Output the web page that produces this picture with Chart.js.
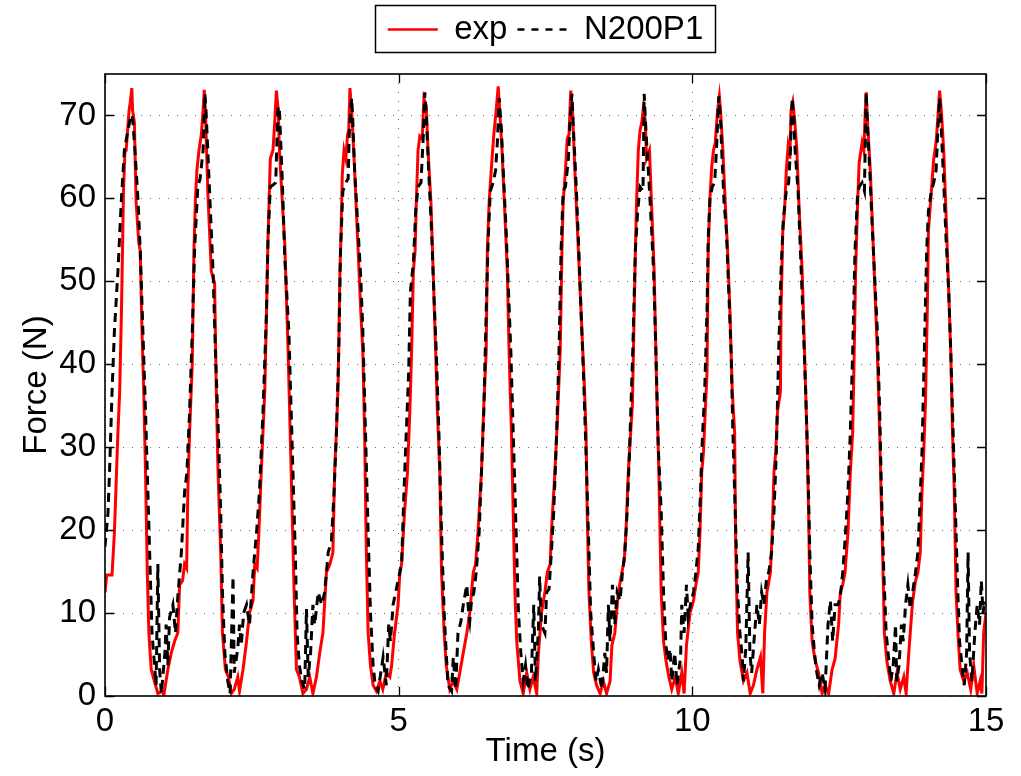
<!DOCTYPE html>
<html>
<head>
<meta charset="utf-8">
<script src="https://cdn.jsdelivr.net/npm/chart.js@4"></script>
<style>
html,body{margin:0;padding:0;background:#fff;}
#wrap{width:1021px;height:776px;position:relative;}
</style>
</head>
<body>
<div id="wrap"><canvas id="c"></canvas></div>
<script>
// ---- data: [time (s), force (N)] ----
const seriesNames = ['exp', 'N200P1'];
const xTitle = 'Time (s)';
const yTitle = 'Force (N)';
const xTicks = [0, 5, 10, 15];
const yTicks = [0, 10, 20, 30, 40, 50, 60, 70];

const expSeries = [[0,12.5],[0.03,14.6],[0.12,14.6],[0.16,19.7],[0.22,31.8],[0.25,36.7],[0.28,46.4],[0.315,60.9],[0.34,65.8],[0.36,65.8],[0.41,70.6],[0.43,71.6],[0.457,73.3],[0.47,70.6],[0.5,69.2],[0.53,59.5],[0.576,54.6],[0.6,53.7],[0.63,44],[0.66,36.7],[0.69,27],[0.72,14.9],[0.747,7.6],[0.787,3.2],[0.84,1.8],[0.9,0.3],[0.985,0.6],[1.0,0],[1.07,3.2],[1.128,5.2],[1.185,6.6],[1.24,7.6],[1.27,13.4],[1.32,13.9],[1.355,15.9],[1.39,15.4],[1.41,24.6],[1.44,31.8],[1.486,40.1],[1.514,53.7],[1.54,60],[1.565,63.4],[1.6,65.8],[1.64,67.7],[1.67,70.6],[1.69,73.1],[1.71,70.6],[1.75,60.9],[1.81,51.2],[1.866,49.8],[1.895,36.7],[1.925,27],[1.97,17.3],[2.0,7.6],[2.05,3.2],[2.1,2.3],[2.15,0.3],[2.2,0.8],[2.26,2.3],[2.29,0.6],[2.35,3.2],[2.41,6.6],[2.46,10],[2.52,11.5],[2.55,15.9],[2.59,15.4],[2.62,19.7],[2.66,27],[2.72,36.7],[2.75,46.4],[2.775,55.1],[2.815,64.8],[2.86,65.8],[2.89,69.2],[2.918,73],[2.95,70.6],[2.97,65.8],[3.02,59.5],[3.06,54.6],[3.116,42],[3.17,27],[3.22,12.5],[3.26,3.2],[3.31,2.3],[3.37,0.3],[3.43,0.8],[3.486,2.3],[3.54,0.3],[3.6,2.3],[3.656,5.2],[3.71,7.6],[3.77,14.9],[3.83,15.9],[3.88,17.3],[3.91,27],[3.94,31.8],[3.97,37.7],[4.0,51.2],[4.02,56.1],[4.04,62.9],[4.07,65.8],[4.1,64.8],[4.13,67.7],[4.15,68.2],[4.17,73.3],[4.2,70.6],[4.25,63.4],[4.31,53.7],[4.355,46.4],[4.39,41.5],[4.42,31.8],[4.45,17.3],[4.48,7.6],[4.52,3.7],[4.565,1.3],[4.62,0.6],[4.68,1.8],[4.73,0.8],[4.79,2.8],[4.85,2.3],[4.88,3.7],[4.93,7.6],[4.99,11],[5.02,14.9],[5.05,15.9],[5.1,22.2],[5.15,27],[5.19,34.3],[5.22,41.5],[5.25,51.2],[5.28,53.7],[5.3,59.5],[5.33,65.8],[5.36,67.5],[5.4,67.2],[5.43,72],[5.47,71.1],[5.5,65.8],[5.55,59.5],[5.587,51.2],[5.63,41.5],[5.66,34.3],[5.7,27],[5.73,14.9],[5.775,7.6],[5.81,3.7],[5.87,0.8],[5.93,1.8],[5.99,0.8],[6.04,2.8],[6.1,5.2],[6.16,7.6],[6.21,10],[6.27,14.9],[6.31,15.9],[6.35,19.7],[6.41,27],[6.45,35.2],[6.49,41.5],[6.51,53.7],[6.54,59.5],[6.58,63.8],[6.62,67.7],[6.66,70.6],[6.695,73.5],[6.72,70.6],[6.76,65.8],[6.8,59.5],[6.85,51.2],[6.88,41.5],[6.92,31.8],[6.95,22.2],[6.98,12.5],[7.01,6.6],[7.065,1.8],[7.12,0.3],[7.18,2.8],[7.235,0.8],[7.29,2.3],[7.35,0.3],[7.38,5.2],[7.43,10],[7.49,12.5],[7.53,14.9],[7.58,15.9],[7.6,19.7],[7.66,27],[7.7,32.9],[7.75,41.5],[7.78,53.7],[7.8,59.5],[7.84,63.4],[7.87,67.2],[7.9,67.7],[7.93,73],[7.96,70.6],[8.0,63.4],[8.06,53.7],[8.12,44],[8.16,37.7],[8.19,31.8],[8.21,22.2],[8.24,12.5],[8.28,6.6],[8.32,2.8],[8.37,1.3],[8.43,0.3],[8.485,1.8],[8.54,0.3],[8.6,1.8],[8.63,6.1],[8.68,7.6],[8.74,12.5],[8.8,14.9],[8.84,16.3],[8.87,19.7],[8.91,27],[8.95,31.8],[8.98,35.2],[9.01,46.4],[9.03,53.7],[9.05,59.5],[9.08,65.8],[9.11,68.2],[9.14,69.2],[9.17,71.1],[9.2,69.2],[9.22,64.8],[9.27,65.8],[9.31,58.5],[9.35,51.2],[9.39,38],[9.43,27],[9.47,12.5],[9.51,6.6],[9.55,4.3],[9.6,2.3],[9.65,0.8],[9.71,2.3],[9.76,0.3],[9.82,2.8],[9.86,0.3],[9.9,6.1],[9.96,10],[10.02,11.5],[10.06,13.4],[10.1,14.9],[10.13,19.7],[10.16,27],[10.19,29.4],[10.22,34.3],[10.25,39.1],[10.27,53.7],[10.3,60],[10.33,63.8],[10.36,65.8],[10.39,66.7],[10.43,70.6],[10.46,72.3],[10.48,70.6],[10.52,65.8],[10.56,59.5],[10.6,53.7],[10.64,46.4],[10.68,36.7],[10.72,31.8],[10.74,17.3],[10.77,7.6],[10.81,4.3],[10.87,1.8],[10.93,2.8],[10.985,0.3],[11.04,1.3],[11.1,3.2],[11.16,4.7],[11.2,0.3],[11.23,7.6],[11.27,12.5],[11.33,14.9],[11.36,19.7],[11.39,27],[11.42,29.4],[11.45,34.3],[11.5,36.7],[11.51,46.4],[11.54,56.1],[11.57,58.5],[11.6,63.4],[11.63,66.2],[11.66,64.8],[11.68,70.6],[11.71,71.6],[11.74,69.7],[11.78,65.8],[11.82,58.5],[11.87,51.2],[11.9,44],[11.93,36.7],[11.95,31.8],[11.98,22.2],[12.0,12.5],[12.04,6.6],[12.09,4.3],[12.15,2.8],[12.21,0.3],[12.26,1.3],[12.32,0.3],[12.38,3.2],[12.43,4.5],[12.49,8.6],[12.52,12.5],[12.56,13.4],[12.6,14.9],[12.65,19.7],[12.69,27],[12.73,31.8],[12.75,39.1],[12.78,51.2],[12.81,58.5],[12.84,64.3],[12.89,66.7],[12.92,65.8],[12.945,70.6],[12.96,72.8],[12.99,68.2],[13.03,63.4],[13.07,56.1],[13.11,48.8],[13.15,41.5],[13.19,31.8],[13.21,25.5],[13.24,17.3],[13.27,7.6],[13.31,4.3],[13.37,1.8],[13.43,0.3],[13.485,2.8],[13.54,0.8],[13.6,2.3],[13.64,0.3],[13.68,4.7],[13.71,7.6],[13.75,11.4],[13.8,13.9],[13.84,14.9],[13.88,17.3],[13.91,24.6],[13.94,29.4],[13.97,35.6],[14.0,46.4],[14.02,56.1],[14.07,60.9],[14.11,64.8],[14.15,66.7],[14.18,69.7],[14.21,73],[14.24,70.6],[14.28,65.8],[14.33,56.1],[14.365,48.8],[14.4,41.5],[14.43,31.8],[14.46,24.6],[14.49,12.5],[14.53,6.6],[14.56,3.2],[14.62,1.8],[14.68,2.8],[14.74,0.8],[14.79,3.7],[14.85,0.3],[14.9,1.8],[14.93,0.3],[14.96,7.6],[15.0,10]];

const simSeries = [[0,18],[0.05,22],[0.077,27],[0.12,36.7],[0.16,44],[0.22,51.2],[0.276,59.5],[0.33,65.8],[0.39,68.2],[0.446,70.1],[0.47,69.7],[0.51,65.8],[0.56,60],[0.6,53.7],[0.645,44],[0.69,34.3],[0.73,24.6],[0.77,14.9],[0.8,7.6],[0.844,3.7],[0.87,1.3],[0.9,15.9],[0.93,3.2],[0.96,0.3],[1.02,5.2],[1.04,8.6],[1.07,3.7],[1.1,9.5],[1.156,11],[1.2,7.6],[1.24,12],[1.3,17.3],[1.355,24.6],[1.395,27],[1.44,34.3],[1.486,44],[1.525,53.7],[1.58,61.4],[1.62,62.4],[1.67,65.8],[1.7,72.6],[1.72,70.6],[1.78,60.9],[1.84,51.2],[1.88,41.5],[1.93,31.8],[1.97,22.2],[2.0,12.5],[2.04,5.2],[2.09,1.8],[2.13,0.3],[2.18,14.4],[2.2,2.8],[2.26,5.7],[2.29,8.6],[2.32,6.1],[2.36,10],[2.41,11],[2.46,8.6],[2.52,14.9],[2.58,19.7],[2.63,24.6],[2.69,34.3],[2.75,46.4],[2.775,55.1],[2.815,61.4],[2.86,61.6],[2.906,61.9],[2.946,71.1],[2.97,70.6],[3.02,61.9],[3.06,53],[3.13,44],[3.2,27],[3.24,17.3],[3.27,7.6],[3.31,3.7],[3.35,1.8],[3.4,0.8],[3.43,10.5],[3.46,2.3],[3.5,5.2],[3.54,11],[3.57,8.6],[3.63,12.5],[3.69,11],[3.74,12.5],[3.8,17.3],[3.855,18.7],[3.9,24.6],[3.94,31.8],[3.98,41.5],[4.01,53.7],[4.05,60.9],[4.1,61.9],[4.14,62.4],[4.16,68.2],[4.2,72.1],[4.22,69.2],[4.25,63.4],[4.31,56.1],[4.355,50.3],[4.39,44],[4.435,31.8],[4.48,19.7],[4.52,10],[4.565,3.7],[4.6,1.3],[4.65,0.6],[4.735,4.7],[4.79,1.3],[4.83,8.6],[4.86,6.6],[4.905,11],[4.96,12.9],[5.02,14.9],[5.05,15.9],[5.09,24.6],[5.13,31.8],[5.17,39.1],[5.2,48.8],[5.25,52.2],[5.29,58.5],[5.33,61.4],[5.38,61.9],[5.42,67.7],[5.445,72.8],[5.47,70.1],[5.51,63.4],[5.56,56.1],[5.6,48.4],[5.64,41.5],[5.685,31.8],[5.73,19.7],[5.775,10],[5.81,5.2],[5.84,1.3],[5.9,0.6],[5.93,4.7],[5.97,0.8],[6.01,7.6],[6.06,9],[6.1,11],[6.16,13.4],[6.19,10],[6.21,9],[6.24,11.5],[6.28,12.5],[6.32,14.9],[6.37,19.7],[6.41,27],[6.45,34.3],[6.49,46.4],[6.525,55.1],[6.56,60.9],[6.61,61.9],[6.65,63.4],[6.68,66.7],[6.71,72.1],[6.75,68.2],[6.78,63.4],[6.83,56.1],[6.87,48.8],[6.91,41.5],[6.95,31.8],[6.99,22.2],[7.04,10],[7.08,5.2],[7.12,1.8],[7.16,3.7],[7.2,0.8],[7.26,2.8],[7.3,11],[7.33,1.8],[7.38,8.1],[7.4,14.4],[7.43,8.6],[7.49,7.6],[7.52,12.5],[7.56,12.9],[7.6,17.3],[7.64,22.2],[7.69,31.8],[7.73,41.5],[7.765,53.7],[7.8,60.9],[7.84,61.4],[7.89,64.8],[7.92,69.7],[7.95,72.6],[7.97,69.2],[8.02,61.9],[8.06,55.1],[8.1,47.4],[8.145,39.1],[8.19,29.4],[8.23,19.7],[8.27,10],[8.32,5.2],[8.36,1.8],[8.4,3.2],[8.46,0.8],[8.51,5.2],[8.54,2.8],[8.57,11],[8.6,6.6],[8.64,13.4],[8.68,8.6],[8.72,12.5],[8.77,11.5],[8.81,14.9],[8.85,17.3],[8.89,22.2],[8.93,29.4],[8.985,41.5],[9.03,53.7],[9.07,58.5],[9.11,61.4],[9.16,60.9],[9.18,72.6],[9.21,68.2],[9.25,63.4],[9.29,58.5],[9.34,51.2],[9.38,41.5],[9.42,30],[9.47,22.2],[9.51,12.5],[9.55,6.1],[9.58,4.3],[9.62,5.7],[9.65,1.8],[9.7,5.2],[9.74,1.3],[9.8,4.7],[9.82,11],[9.86,7.6],[9.9,13.4],[9.93,9.5],[9.98,11.5],[10.02,12.5],[10.06,14.9],[10.1,17.8],[10.14,24.6],[10.16,29.4],[10.21,36.7],[10.25,46.4],[10.27,55.1],[10.3,60],[10.34,61.4],[10.38,61.9],[10.41,65.8],[10.45,72.3],[10.48,69.7],[10.5,65.8],[10.54,59.5],[10.58,56.1],[10.62,48.8],[10.66,41.5],[10.69,31.8],[10.73,22.2],[10.77,12.5],[10.81,7.6],[10.85,4.7],[10.87,1.8],[10.91,5.7],[10.95,17.3],[10.98,5.2],[11.01,2.8],[11.06,7.6],[11.1,11],[11.14,8.6],[11.18,12.5],[11.22,11],[11.26,13.9],[11.3,14.9],[11.35,17.3],[11.39,22.2],[11.43,29.4],[11.47,41.5],[11.51,51.2],[11.55,57.6],[11.6,60.9],[11.64,61.9],[11.67,65.8],[11.7,72.1],[11.73,69.2],[11.75,65.8],[11.8,60.9],[11.84,53.7],[11.88,46.4],[11.93,36.7],[11.97,27],[12.0,17.3],[12.04,8.6],[12.08,5.2],[12.12,2.8],[12.16,1.3],[12.21,2.8],[12.26,0.8],[12.31,8.6],[12.35,11.5],[12.39,6.6],[12.43,11],[12.48,11],[12.52,12],[12.56,14.9],[12.6,18.7],[12.65,24.6],[12.69,31.8],[12.73,41.5],[12.77,53.7],[12.81,60],[12.84,61.4],[12.89,61.9],[12.93,60.9],[12.96,72.8],[12.98,69.2],[13.02,63.4],[13.06,57.1],[13.1,51.2],[13.15,44],[13.19,34.3],[13.22,24.6],[13.26,14.9],[13.3,7.6],[13.34,4.7],[13.38,1.8],[13.42,3.7],[13.46,8.6],[13.48,1.8],[13.52,3.7],[13.56,8.6],[13.59,6.6],[13.63,11],[13.67,13.4],[13.71,10.5],[13.75,12.5],[13.8,14.9],[13.84,17.3],[13.87,22.2],[13.91,29.4],[13.95,41.5],[13.99,53.7],[14.02,58.5],[14.07,60.9],[14.11,61.9],[14.15,63.4],[14.18,68.2],[14.21,72.1],[14.24,68.2],[14.28,61.9],[14.32,55.1],[14.365,48.8],[14.4,41.5],[14.44,31.8],[14.48,22.2],[14.52,12.5],[14.55,6.6],[14.59,3.7],[14.63,1.3],[14.67,5.2],[14.695,17.3],[14.72,5.2],[14.76,1.8],[14.81,7.6],[14.85,11],[14.89,8.6],[14.92,13.9],[14.95,10],[14.98,11.5],[15.0,11]];

// ---- chart ----
Chart.defaults.font.family = "'Liberation Sans', Arial, Helvetica, sans-serif";
Chart.defaults.color = '#000';

const FS = 33;

const framePlugin = {
  id: 'matlabFrame',
  afterDraw(chart) {
    const {ctx, chartArea: a, scales} = chart;
    const xs = scales.x, ys = scales.y;
    ctx.save();
    ctx.setLineDash([]);
    ctx.strokeStyle = '#000';
    ctx.lineWidth = 1.3;
    const L = 9;
    ctx.beginPath();
    ys.ticks.forEach(t => {
      const py = Math.round(ys.getPixelForValue(t.value)) + 0.5;
      ctx.moveTo(a.left, py); ctx.lineTo(a.left + L, py);
      ctx.moveTo(a.right, py); ctx.lineTo(a.right - L, py);
    });
    xs.ticks.forEach(t => {
      const px = Math.round(xs.getPixelForValue(t.value)) + 0.5;
      ctx.moveTo(px, a.bottom); ctx.lineTo(px, a.bottom - L);
      ctx.moveTo(px, a.top); ctx.lineTo(px, a.top + L);
    });
    ctx.stroke();
    ctx.lineWidth = 1.6;
    ctx.strokeRect(a.left, a.top, a.right - a.left, a.bottom - a.top);
    const hb = chart.legend && chart.legend.legendHitBoxes;
    if (hb && hb.length) {
      const first = hb[0], last = hb[hb.length - 1];
      const cy = first.top + first.height / 2;
      const lx = first.left - 13;
      const rx = last.left + last.width + 12;
      ctx.lineWidth = 1.5;
      ctx.strokeRect(Math.round(lx) + 0.5, Math.round(cy - 25) + 0.5, Math.round(rx - lx), 47);
    }
    ctx.restore();
  }
};

const toXY = arr => arr.map(p => ({x: p[0], y: p[1]}));

new Chart(document.getElementById('c'), {
  type: 'line',
  data: {
    datasets: [
      {
        label: seriesNames[0],
        data: toXY(expSeries),
        borderColor: '#ff0000',
        borderWidth: 3,
        pointRadius: 0,
        tension: 0,
        fill: false,
        order: 2
      },
      {
        label: seriesNames[1],
        data: toXY(simSeries),
        borderColor: '#000000',
        borderWidth: 3,
        borderDash: [9, 6],
        pointRadius: 0,
        tension: 0,
        fill: false,
        order: 1
      }
    ]
  },
  options: {
    responsive: true,
    maintainAspectRatio: false,
    animation: false,
    events: [],
    layout: { padding: { top: 3, right: 35, bottom: 0, left: 0 } },
    plugins: {
      tooltip: { enabled: false },
      legend: {
        display: true,
        position: 'top',
        align: 'center',
        fullSize: false,
        weight: 3000,
        labels: {
          font: { size: FS },
          color: '#000',
          usePointStyle: true,
          pointStyleWidth: 50,
          padding: 10,
          generateLabels(chart) {
            return chart.data.datasets.map((ds, i) => ({
              text: ds.label,
              datasetIndex: i,
              fillStyle: 'rgba(0,0,0,0)',
              strokeStyle: ds.borderColor,
              lineWidth: 2.5,
              lineDash: ds.borderDash ? [7, 7] : [],
              lineCap: 'butt',
              pointStyle: 'line',
              hidden: false,
              fontColor: '#000'
            }));
          }
        }
      },
      title: {
        display: true,
        text: ' ',
        font: { size: 10, lineHeight: 1 },
        padding: { top: 0, bottom: 8 }
      }
    },
    scales: {
      x: {
        type: 'linear',
        min: 0,
        max: 15,
        afterBuildTicks: s => { s.ticks = xTicks.map(v => ({ value: v })); },
        afterFit: s => { s.height = 80; },
        ticks: { font: { size: FS }, color: '#000', padding: 6, maxRotation: 0, autoSkip: false },
        grid: { color: '#666', lineWidth: 1, drawTicks: false },
        border: { display: false, dash: [1, 8] },
        title: { display: true, text: xTitle, font: { size: FS }, color: '#000', padding: { top: 0, bottom: 4 } }
      },
      y: {
        type: 'linear',
        min: 0,
        max: 75,
        afterBuildTicks: s => { s.ticks = yTicks.map(v => ({ value: v })); },
        afterFit: s => { s.width = 105; },
        ticks: { font: { size: FS }, color: '#000', padding: 9 },
        grid: { color: '#666', lineWidth: 1, drawTicks: false },
        border: { display: false, dash: [1, 8] },
        title: { display: true, text: yTitle, font: { size: FS }, color: '#000', padding: { top: 17, bottom: 0 } }
      }
    }
  },
  plugins: [framePlugin]
});
</script>
</body>
</html>
